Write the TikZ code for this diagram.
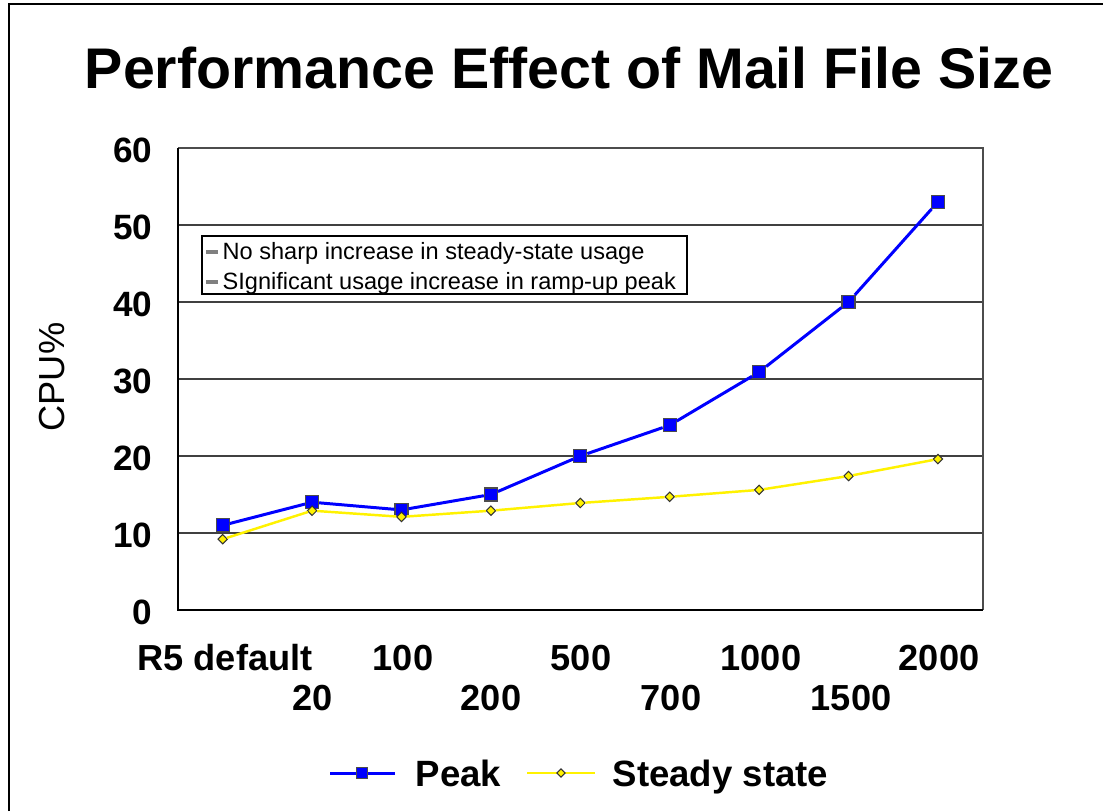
\documentclass[tikz,border=0pt]{standalone}
\usepackage{fontspec}
\setmainfont{Liberation Sans}
\usetikzlibrary{shapes.geometric}

\begin{document}
\begin{tikzpicture}[x=0.01cm, y=-0.01cm,
    gridline/.style={draw=black!75, line width=0.3pt},
    peakline/.style={draw=blue, line width=0.85pt},
    steadyline/.style={draw=yellow, line width=0.7pt},
    peakmark/.style={rectangle, draw=black!70, line width=0.3pt, fill=blue, inner sep=0pt, minimum size=3.7pt},
    steadymark/.style={diamond, aspect=1, draw=black!80, line width=0.3pt, fill=yellow, inner sep=0pt, minimum size=2.8pt},
    ticklabel/.style={anchor=base east, inner sep=0pt, font=\fontsize{10}{12}\selectfont\bfseries},
    catlabel/.style={anchor=base, inner sep=0pt, font=\fontsize{10.3}{12}\selectfont\bfseries},
    notetext/.style={anchor=base west, inner sep=0pt, font=\fontsize{6.7}{8}\selectfont},
    legendtext/.style={anchor=base west, inner sep=0pt, font=\fontsize{10.4}{12}\selectfont\bfseries}]
        \useasboundingbox (0,0) rectangle (1103,811);
        \fill[white] (0,0) rectangle (1103,811);
        \draw[line width=0.6pt] (9,811) -- (9,4) -- (1103,4);

        % title
        \node[anchor=base, inner sep=0pt, font=\fontsize{16.3}{19}\selectfont\bfseries] (title) at (569,88) {Performance Effect of Mail File Size};

        % plot area
        \draw[gridline] (178,225) -- (983,225);
        \draw[gridline] (178,302) -- (983,302);
        \draw[gridline] (178,379) -- (983,379);
        \draw[gridline] (178,456) -- (983,456);
        \draw[gridline] (178,533) -- (983,533);
        \draw[draw=black!70, line width=0.4pt] (178,148) -- (983,148) -- (983,610);
        \draw[line width=0.7pt] (178,148) -- (178,610) -- (983,610);

        \node[ticklabel] (y60) at (153,162) {60};
        \node[ticklabel] (y50) at (153,239) {50};
        \node[ticklabel] (y40) at (153,316) {40};
        \node[ticklabel] (y30) at (153,393) {30};
        \node[ticklabel] (y20) at (153,470) {20};
        \node[ticklabel] (y10) at (153,547) {10};
        \node[ticklabel] (y0) at (153,624) {0};
        \node[rotate=90, inner sep=0pt, font=\fontsize{10.3}{12}\selectfont] (cpu) at (52,377) {CPU\%};

        \node[catlabel] (c1) at (225,670) {R5 default};
        \node[catlabel] (c3) at (403,670) {100};
        \node[catlabel] (c5) at (581,670) {500};
        \node[catlabel] (c7) at (761,670) {1000};
        \node[catlabel] (c9) at (939,670) {2000};
        \node[catlabel] (c2) at (313,710) {20};
        \node[catlabel] (c4) at (491,710) {200};
        \node[catlabel] (c6) at (671,710) {700};
        \node[catlabel] (c8) at (851,710) {1500};

        % note box
        \draw[line width=0.6pt] (202,236) rectangle (687,294);
        \draw[draw=black!50, line width=1pt] (206,252) -- (218,252);
        \draw[draw=black!50, line width=1pt] (206,282) -- (218,282);
        \node[notetext] (note1) at (222,259) {No sharp increase in steady-state usage};
        \node[notetext] (note2) at (222,289) {SIgnificant usage increase in ramp-up peak};

        % peak
        \node[peakmark] (p1) at (222.7,{610-7.7*11}) {};
        \node[peakmark] (p2) at (312.1,{610-7.7*14}) {};
        \node[peakmark] (p3) at (401.5,{610-7.7*13}) {};
        \node[peakmark] (p4) at (490.9,{610-7.7*15}) {};
        \node[peakmark] (p5) at (580.3,{610-7.7*20}) {};
        \node[peakmark] (p6) at (669.7,{610-7.7*24}) {};
        \node[peakmark] (p7) at (759.1,{610-7.7*30.9}) {};
        \node[peakmark] (p8) at (848.5,{610-7.7*40}) {};
        \node[peakmark] (p9) at (937.9,{610-7.7*53}) {};
        \draw[peakline] (p1) -- (p2) -- (p3) -- (p4) -- (p5) -- (p6) -- (p7) -- (p8) -- (p9);

        % steady state
        \node[steadymark] (s1) at (222.7,{610-7.7*9.2}) {};
        \node[steadymark] (s2) at (312.1,{610-7.7*12.9}) {};
        \node[steadymark] (s3) at (401.5,{610-7.7*12.1}) {};
        \node[steadymark] (s4) at (490.9,{610-7.7*12.9}) {};
        \node[steadymark] (s5) at (580.3,{610-7.7*13.9}) {};
        \node[steadymark] (s6) at (669.7,{610-7.7*14.7}) {};
        \node[steadymark] (s7) at (759.1,{610-7.7*15.6}) {};
        \node[steadymark] (s8) at (848.5,{610-7.7*17.4}) {};
        \node[steadymark] (s9) at (937.9,{610-7.7*19.6}) {};
        \draw[steadyline] (s1) -- (s2) -- (s3) -- (s4) -- (s5) -- (s6) -- (s7) -- (s8) -- (s9);

        % legend
        \coordinate (lp0) at (330,773);
        \coordinate (lp1) at (395,773);
        \coordinate (ls0) at (527,773);
        \coordinate (ls1) at (595,773);
        \draw[peakline] (lp0) -- (lp1);
        \node[peakmark, minimum size=3pt] (lpm) at (362,773) {};
        \node[legendtext] (lpt) at (415,786) {Peak};
        \draw[steadyline] (ls0) -- (ls1);
        \node[steadymark, minimum size=2.5pt] (lsm) at (561,773) {};
        \node[legendtext] (lst) at (612,786) {Steady state};
\end{tikzpicture}
\end{document}
